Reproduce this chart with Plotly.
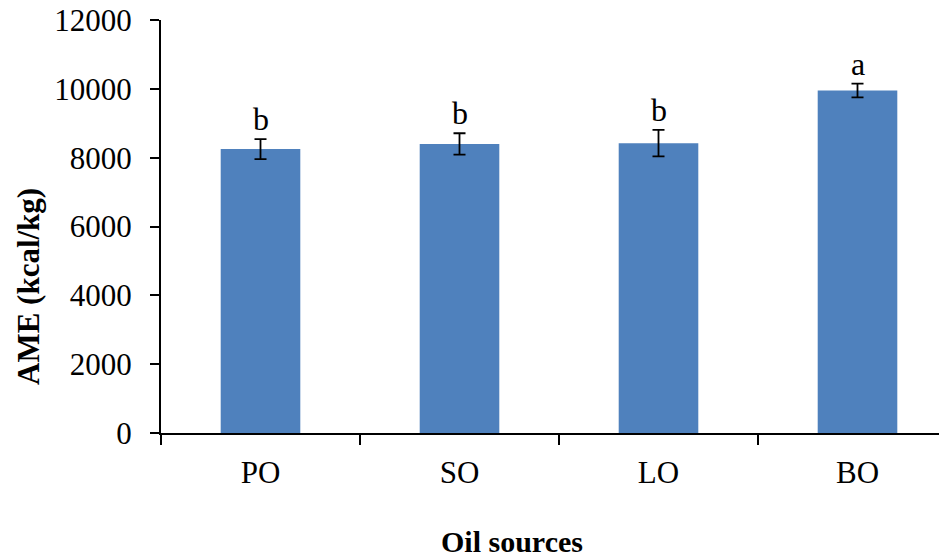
import plotly.graph_objects as go

categories = ["PO", "SO", "LO", "BO"]
ame_values = [8250, 8400, 8420, 9950]
ame_errors = [290, 310, 385, 200]
sig_letters = ["b", "b", "b", "a"]
y_ticks = [0, 2000, 4000, 6000, 8000, 10000, 12000]

FONT = "Liberation Serif, Times New Roman, serif"
W, H = 939, 559
ML, MR, MT, MB = 161, 0, 20, 559 - 433
plot_w = W - ML - MR
plot_h = H - MT - MB
cat_px = 199.0


def px_x(ax):
    return (ax - ML) / plot_w


def px_y(ay):
    return (433 - ay) / plot_h


fig = go.Figure()
fig.add_trace(go.Bar(
    x=categories, y=ame_values, width=0.4,
    marker=dict(color="#4F81BD", line=dict(width=0)),
    error_y=dict(type="data", array=ame_errors, visible=True,
                 color="black", thickness=1.8, width=6),
))

for c, v, e, s in zip(categories, ame_values, ame_errors, sig_letters):
    fig.add_annotation(x=c, y=v + e, text=s, showarrow=False,
                       xref="x", yref="y", yanchor="bottom", yshift=0,
                       font=dict(family=FONT, size=32, color="black"))

fig.add_annotation(xref="paper", yref="paper", x=px_x(28), y=px_y(287),
                   text="<b>AME (kcal/kg)</b>", textangle=-90, showarrow=False,
                   xanchor="center", yanchor="middle",
                   font=dict(family=FONT, size=31, color="black"))
fig.add_annotation(xref="paper", yref="paper", x=px_x(512), y=px_y(541),
                   text="<b>Oil sources</b>", showarrow=False,
                   xanchor="center", yanchor="middle",
                   font=dict(family=FONT, size=30, color="black"))

fig.update_layout(
    width=W, height=H,
    margin=dict(l=ML, r=MR, t=MT, b=MB, pad=0, autoexpand=False),
    paper_bgcolor="white", plot_bgcolor="white",
    showlegend=False,
    font=dict(family=FONT, size=31, color="black"),
)
fig.update_xaxes(
    type="category", range=[-0.5, -0.5 + plot_w / cat_px], automargin=False,
    showline=True, linecolor="black", linewidth=2,
    ticks="outside", tickson="boundaries", ticklen=10, tickwidth=2, tickcolor="black",
    showgrid=False, zeroline=False,
    tickfont=dict(family=FONT, size=31, color="black"),
    ticklabelstandoff=11,
)
fig.update_yaxes(
    range=[0, 12000], tickvals=y_ticks, ticktext=[str(t) for t in y_ticks],
    automargin=False,
    showline=True, linecolor="black", linewidth=2,
    ticks="outside", ticklen=9, tickwidth=2, tickcolor="black",
    showgrid=False, zeroline=False,
    tickfont=dict(family=FONT, size=31, color="black"),
    ticklabelstandoff=12, ticklabeloverflow="allow",
)

fig.write_html("out.html",
               config={"displayModeBar": False},
               post_script="document.body.style.margin='0';document.body.style.overflow='hidden';")
